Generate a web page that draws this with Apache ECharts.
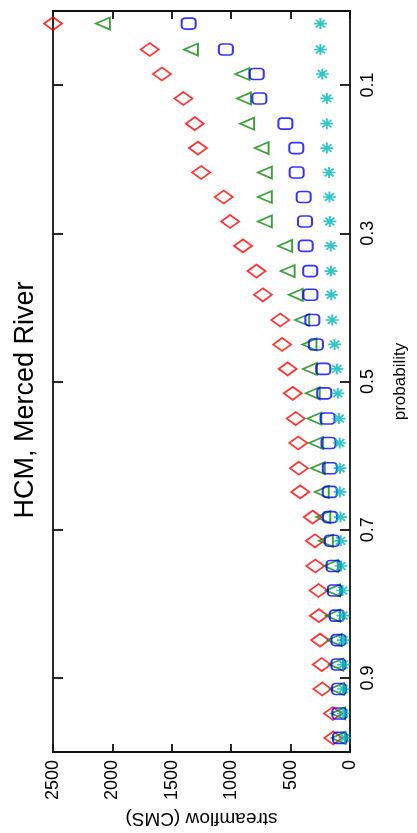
<!DOCTYPE html>
<html>
<head>
<meta charset="utf-8">
<script src="https://cdn.jsdelivr.net/npm/echarts@6/dist/echarts.min.js"></script>
<style>
  html, body { margin: 0; padding: 0; background: #fff; }
  #chart { width: 417px; height: 833px; }
</style>
</head>
<body>
<div id="chart"></div>
<script>
// Non-exceedance probability of each ranked flow
const probability = [0.017, 0.052, 0.085, 0.118, 0.152, 0.185, 0.218, 0.251, 0.284, 0.317,
                     0.351, 0.383, 0.417, 0.450, 0.483, 0.516, 0.550, 0.583, 0.617, 0.649,
                     0.683, 0.715, 0.749, 0.782, 0.816, 0.849, 0.882, 0.915, 0.948, 0.981];

// Streamflow (CMS) for the four series
const flowRed   = [2500, 1686, 1583, 1402, 1307, 1280, 1253, 1063, 1009, 901,
                   787, 733, 587, 571, 525, 482, 457, 436, 430, 419,
                   314, 295, 292, 265, 262, 252, 238, 233, 144, 141];
const flowGreen = [2080, 1339, 906, 893, 866, 744, 717, 717, 717, 546,
                   525, 457, 403, 341, 338, 314, 300, 287, 271, 238,
                   225, 203, 160, 143, 143, 130, 116, 111, 100, 97];
const flowBlue  = [1358, 1045, 785, 763, 544, 452, 449, 390, 379, 373,
                   335, 333, 317, 287, 225, 217, 189, 181, 170, 170,
                   168, 152, 138, 127, 111, 97, 97, 92, 89, 84];
const flowCyan  = [249, 249, 233, 195, 195, 195, 176, 173, 170, 162,
                   160, 157, 149, 130, 111, 103, 92, 87, 84, 84,
                   80, 78, 76, 62, 60, 57, 57, 57, 57, 43];

const flowTicks = [0, 500, 1000, 1500, 2000, 2500];
const probTicks = [0.1, 0.3, 0.5, 0.7, 0.9];

const FONT = '"Liberation Sans", Arial, Helvetica, sans-serif';

function pairs(flows) {
  return flows.map((f, i) => [f, probability[i]]);
}

const asterisk = 'path://M0,5 L10,5 M5,0 L5,10 M1.5,1.5 L8.5,8.5 M1.5,8.5 L8.5,1.5';
const leftTri = 'path://M0,5 L10,0 L10,10 Z';

function hollow(color) {
  return { color: 'transparent', borderColor: color, borderWidth: 1.8 };
}

const chart = echarts.init(document.getElementById('chart'));

const frameLine = { show: true, onZero: false, lineStyle: { color: '#111', width: 1.8 } };
const innerTick = { show: true, inside: true, length: 8, lineStyle: { color: '#111', width: 1.8 } };

chart.setOption({
  animation: false,
  backgroundColor: '#fff',
  grid: { left: 53, right: 56, top: 11, bottom: 78, containLabel: false },
  xAxis: [
    {
      type: 'value', inverse: true, min: 0, max: 2500, interval: 500,
      position: 'bottom',
      axisLine: frameLine, axisTick: innerTick, splitLine: { show: false },
      axisLabel: { rotate: 90, fontSize: 18, color: '#000', margin: 8, fontFamily: FONT,
                   customValues: flowTicks, formatter: v => String(v) },
      name: 'streamflow (CMS)', nameLocation: 'middle', nameRotate: 180, nameGap: 57,
      nameTextStyle: { fontSize: 19, color: '#000', fontFamily: FONT }
    },
    {
      type: 'value', inverse: true, min: 0, max: 2500, interval: 500,
      position: 'top',
      axisLine: frameLine, axisTick: innerTick, splitLine: { show: false },
      axisLabel: { show: false }
    }
  ],
  yAxis: [
    {
      type: 'value', inverse: true, min: 0, max: 1,
      position: 'right',
      axisLine: frameLine,
      axisTick: Object.assign({}, innerTick, { customValues: probTicks, length: 10 }),
      splitLine: { show: false },
      axisLabel: { rotate: 90, fontSize: 18, color: '#000', margin: 9, fontFamily: FONT,
                   customValues: probTicks, formatter: v => v.toFixed(1) },
      name: 'probability', nameLocation: 'middle', nameRotate: 90, nameGap: 42,
      nameTextStyle: { fontSize: 17, color: '#000', fontFamily: FONT }
    },
    {
      type: 'value', inverse: true, min: 0, max: 1,
      position: 'left',
      axisLine: frameLine,
      axisTick: Object.assign({}, innerTick, { customValues: probTicks, length: 10 }),
      splitLine: { show: false },
      axisLabel: { show: false }
    }
  ],
  graphic: [
    {
      type: 'text', x: 26, y: 400, rotation: Math.PI / 2,
      style: { text: 'HCM, Merced River', fontSize: 27, fill: '#000', fontFamily: FONT,
               textAlign: 'center', textVerticalAlign: 'middle' }
    }
  ],
  series: [
    { type: 'scatter', clip: false, data: pairs(flowRed), symbol: 'diamond',
      symbolSize: [18, 13], itemStyle: hollow('#ff0000') },
    { type: 'scatter', clip: false, data: pairs(flowGreen), symbol: leftTri,
      symbolSize: [14, 12], itemStyle: hollow('#0a8a0a') },
    { type: 'scatter', clip: false, data: pairs(flowBlue), symbol: 'roundRect',
      symbolSize: [14, 11], itemStyle: hollow('#0000ff') },
    { type: 'scatter', clip: false, data: pairs(flowCyan), symbol: asterisk,
      symbolSize: [13, 11], itemStyle: hollow('#00b8b8') }
  ]
});
</script>
</body>
</html>
